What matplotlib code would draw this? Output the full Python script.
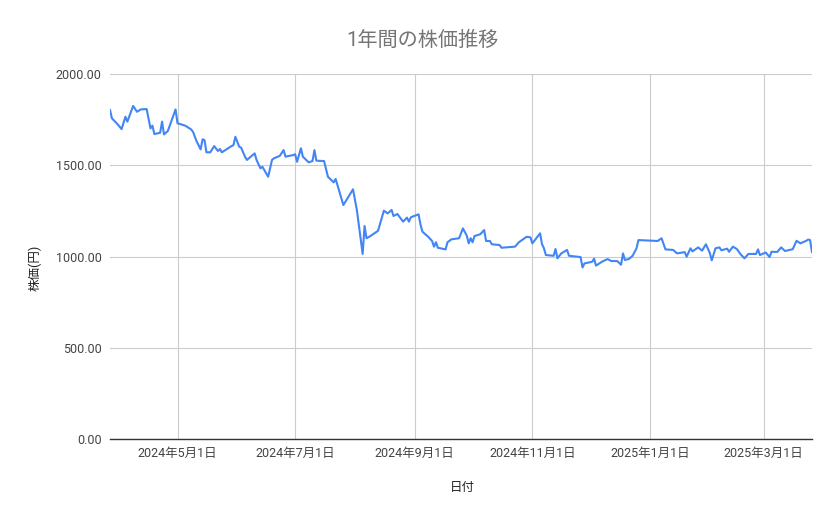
import pandas as pd
import matplotlib
matplotlib.use("Agg")
import matplotlib.pyplot as plt

# Daten
dates = [
    "2024-03-27", "2024-03-28", "2024-03-31", "2024-04-02", "2024-04-04", "2024-04-05",
    "2024-04-08", "2024-04-10", "2024-04-12", "2024-04-15", "2024-04-17", "2024-04-18",
    "2024-04-19", "2024-04-22", "2024-04-23", "2024-04-24", "2024-04-26", "2024-04-30",
    "2024-05-01", "2024-05-05", "2024-05-08", "2024-05-09", "2024-05-11", "2024-05-13",
    "2024-05-14", "2024-05-15", "2024-05-16", "2024-05-18", "2024-05-20", "2024-05-22",
    "2024-05-23", "2024-05-24", "2024-05-29", "2024-05-30", "2024-05-31", "2024-06-02",
    "2024-06-03", "2024-06-05", "2024-06-06", "2024-06-10", "2024-06-11", "2024-06-13",
    "2024-06-14", "2024-06-17", "2024-06-19", "2024-06-20", "2024-06-23", "2024-06-25",
    "2024-06-26", "2024-06-30", "2024-07-01", "2024-07-02", "2024-07-04", "2024-07-05",
    "2024-07-08", "2024-07-10", "2024-07-11", "2024-07-12", "2024-07-16", "2024-07-18",
    "2024-07-21", "2024-07-22", "2024-07-26", "2024-07-31", "2024-08-02", "2024-08-05",
    "2024-08-06", "2024-08-07", "2024-08-09", "2024-08-13", "2024-08-16", "2024-08-18",
    "2024-08-20", "2024-08-21", "2024-08-23", "2024-08-26", "2024-08-28", "2024-08-29",
    "2024-08-30", "2024-09-03", "2024-09-04", "2024-09-05", "2024-09-08", "2024-09-10",
    "2024-09-11", "2024-09-12", "2024-09-13", "2024-09-17", "2024-09-18", "2024-09-20",
    "2024-09-24", "2024-09-26", "2024-09-28", "2024-09-29", "2024-09-30", "2024-10-01",
    "2024-10-02", "2024-10-05", "2024-10-07", "2024-10-08", "2024-10-10", "2024-10-11",
    "2024-10-15", "2024-10-16", "2024-10-23", "2024-10-25", "2024-10-29", "2024-10-31",
    "2024-11-01", "2024-11-05", "2024-11-06", "2024-11-07", "2024-11-08", "2024-11-12",
    "2024-11-13", "2024-11-14", "2024-11-16", "2024-11-19", "2024-11-20", "2024-11-26",
    "2024-11-27", "2024-11-28", "2024-12-02", "2024-12-03", "2024-12-04", "2024-12-07",
    "2024-12-10", "2024-12-12", "2024-12-15", "2024-12-17", "2024-12-18", "2024-12-19",
    "2024-12-21", "2024-12-23", "2024-12-25", "2024-12-26", "2025-01-05", "2025-01-07",
    "2025-01-09", "2025-01-13", "2025-01-15", "2025-01-19", "2025-01-20", "2025-01-22",
    "2025-01-23", "2025-01-26", "2025-01-28", "2025-01-30", "2025-02-01", "2025-02-02",
    "2025-02-04", "2025-02-06", "2025-02-07", "2025-02-10", "2025-02-11", "2025-02-13",
    "2025-02-15", "2025-02-17", "2025-02-19", "2025-02-21", "2025-02-25", "2025-02-26",
    "2025-02-27", "2025-03-02", "2025-03-04", "2025-03-05", "2025-03-08", "2025-03-10",
    "2025-03-12", "2025-03-16", "2025-03-18", "2025-03-20", "2025-03-23", "2025-03-24",
    "2025-03-25", "2025-03-26",
]
prices = [
    1803, 1757, 1724, 1698, 1766, 1739,
    1825, 1793, 1806, 1808, 1702, 1717,
    1671, 1678, 1739, 1669, 1688, 1806,
    1730, 1717, 1697, 1684, 1629, 1587,
    1642, 1638, 1571, 1571, 1605, 1578,
    1589, 1571, 1605, 1610, 1656, 1602,
    1596, 1547, 1529, 1565, 1529, 1483,
    1492, 1437, 1529, 1538, 1551, 1583,
    1547, 1556, 1560, 1519, 1593, 1547,
    1516, 1523, 1583, 1525, 1523, 1437,
    1406, 1425, 1282, 1368, 1255, 1014,
    1167, 1100, 1112, 1141, 1251, 1236,
    1255, 1222, 1233, 1191, 1213, 1191,
    1215, 1231, 1175, 1136, 1108, 1085,
    1054, 1078, 1048, 1039, 1078, 1094,
    1100, 1154, 1114, 1072, 1100, 1078,
    1112, 1122, 1145, 1085, 1085, 1067,
    1063, 1048, 1054, 1078, 1108, 1105,
    1072, 1127, 1068, 1045, 1008, 1004,
    1041, 990, 1017, 1036, 1004, 997,
    940, 962, 971, 988, 950, 971,
    986, 975, 975, 955, 1017, 981,
    986, 1004, 1045, 1090, 1085, 1100,
    1039, 1036, 1017, 1024, 999, 1045,
    1028, 1050, 1032, 1067, 1020, 979,
    1045, 1050, 1034, 1043, 1026, 1054,
    1041, 1012, 990, 1014, 1014, 1039,
    1008, 1022, 997, 1026, 1025, 1050,
    1030, 1040, 1086, 1072, 1086, 1093,
    1090, 1024,
]

xtick_dates = ["2024-05-01", "2024-07-01", "2024-09-01", "2024-11-01", "2025-01-01", "2025-03-01"]
xtick_labels = ["2024年5月1日", "2024年7月1日", "2024年9月1日", "2024年11月1日", "2025年1月1日", "2025年3月1日"]
yticks = [0, 500, 1000, 1500, 2000]

fonts = ["Roboto", "Noto Sans CJK JP", "DejaVu Sans"]
plt.rcParams["font.family"] = fonts

zeiten = pd.to_datetime(dates)

fig = plt.figure(figsize=(8.39, 5.19), dpi=100)
ax = fig.add_axes([110 / 839, 1 - 439 / 519, (812 - 110) / 839, (439 - 74) / 519])

ax.plot(zeiten, prices, color="#4285F4", linewidth=1.5, solid_joinstyle="round")

ax.set_xlim(zeiten[0], zeiten[-1])
ax.set_ylim(0, 2000)
ax.set_yticks(yticks)
ax.set_yticklabels([f"{v:.2f}" for v in yticks])
ax.set_xticks(pd.to_datetime(xtick_dates))
ax.set_xticklabels(xtick_labels)

ax.grid(True, color="#cccccc", linewidth=0.8)
ax.set_axisbelow(True)
ax.tick_params(length=0, labelsize=9, labelcolor="#444444", pad=6)
for side in ["left", "right", "top"]:
    ax.spines[side].set_visible(False)
ax.spines["bottom"].set_color("#333333")
ax.spines["bottom"].set_linewidth(1.0)

fig.text(0.503, 1 - 40 / 519, "1年間の株価推移", ha="center", va="center",
         fontsize=14.5, color="#757575")
fig.text(462 / 839, 1 - 487 / 519, "日付", ha="center", va="center",
         fontsize=9, color="#222222")
fig.text(35 / 839, 1 - 268 / 519, "株価(円)", ha="center", va="center",
         rotation=90, fontsize=9, color="#222222")

fig.savefig("out.png", dpi=100)
